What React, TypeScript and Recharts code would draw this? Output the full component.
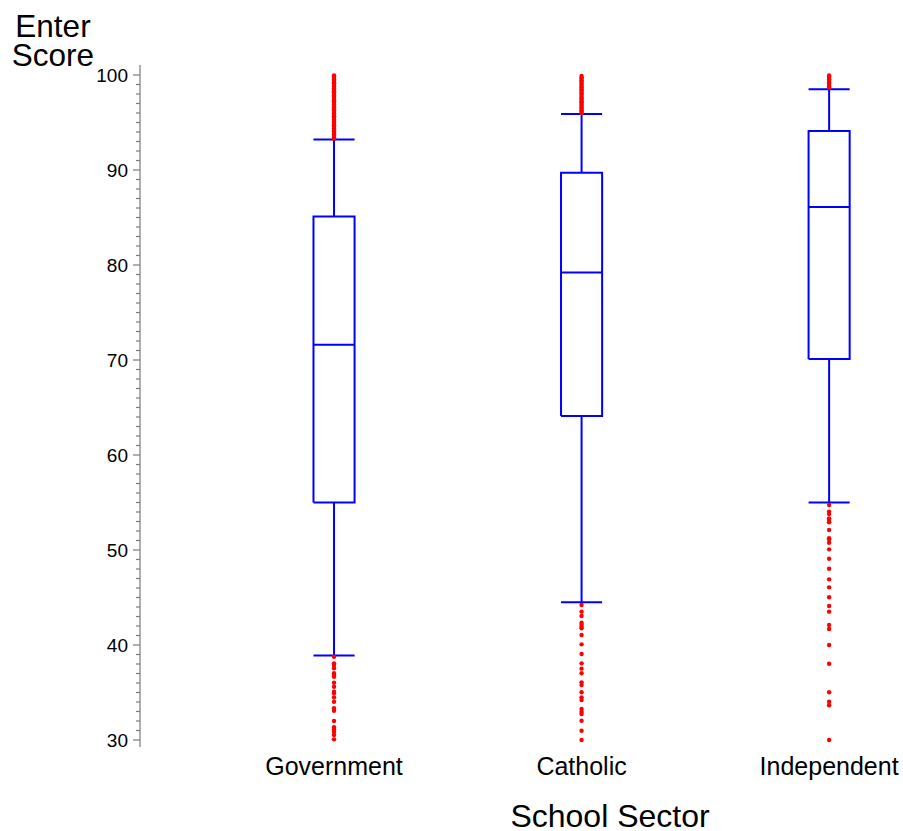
import { ComposedChart, Line, Scatter, XAxis, YAxis } from "recharts"

const FONT = "'Liberation Sans', Arial, sans-serif"

// box plot summaries, one entry per sector
const sectors = ["Government", "Catholic", "Independent"]
const lowerWhisker = [38.9, 44.5, 55.0]
const lowerQuartile = [55.0, 64.1, 70.1]
const medians = [71.6, 79.2, 86.1]
const upperQuartile = [85.1, 89.7, 94.1]
const upperWhisker = [93.2, 95.9, 98.5]

// individual scores beyond the whiskers
const governmentOutliers = [
  93.3, 93.45, 93.6, 93.75, 93.9, 94.05, 94.2, 94.4, 94.55, 94.7, 94.85, 95.0, 95.15, 95.3, 95.5,
  95.65, 95.8, 95.95, 96.1, 96.25, 96.4, 96.6, 96.75, 96.9, 97.05, 97.2, 97.35, 97.5, 97.7, 97.85,
  98.0, 98.15, 98.3, 98.45, 98.6, 98.8, 98.95, 99.1, 99.25, 99.4, 99.55, 99.7, 99.85, 99.95,
  38.77, 38.07, 37.89, 37.55, 37.02, 36.84, 36.66, 36.03, 35.61, 35.08, 34.92, 34.49, 34.03, 33.34,
  33.08, 32.0, 31.34, 31.12, 30.87, 30.53, 30.07,
]
const catholicOutliers = [
  96.0, 96.15, 96.3, 96.45, 96.6, 96.8, 96.95, 97.1, 97.25, 97.4, 97.55, 97.7, 97.9, 98.05, 98.2,
  98.35, 98.5, 98.65, 98.8, 99.0, 99.15, 99.3, 99.45, 99.6, 99.75, 99.9,
  44.21, 43.51, 43.05, 42.35, 42.14, 41.93, 41.75, 41.05, 40.07, 39.05, 38.07, 37.51, 37.02, 36.07,
  35.79, 35.02, 34.49, 34.21, 33.26, 32.98, 32.74, 32.03, 30.98, 30.0,
]
const independentOutliers = [
  98.65, 98.8, 98.95, 99.1, 99.25, 99.4, 99.55, 99.7, 99.85, 99.95,
  54.74, 54.04, 53.79, 53.33, 53.16, 52.92, 52.11, 51.23, 51.12, 50.77, 50.07, 49.08, 48.03, 46.91,
  46.07, 45.02, 44.11, 43.51, 42.11, 41.68, 40.0, 38.03, 35.02, 34.03, 33.65, 30.0,
]

const majorTicks = [30, 40, 50, 60, 70, 80, 90, 100]
const yTicks = Array.from({ length: 71 }, (_, i) => 30 + i)
const xTicks = [1, 2, 3]

const BOX_HALF = 0.083

type Pt = { x: number; y: number | null }

// one polyline per box; null points break it into separate segments
function boxSegments(i: number): Pt[] {
  const x = i + 1
  const l = x - BOX_HALF
  const r = x + BOX_HALF
  const gap = { x, y: null }
  return [
    { x: l, y: lowerWhisker[i] }, { x: r, y: lowerWhisker[i] }, gap,
    { x, y: lowerWhisker[i] }, { x, y: lowerQuartile[i] }, gap,
    { x: l, y: lowerQuartile[i] }, { x: r, y: lowerQuartile[i] }, { x: r, y: upperQuartile[i] },
    { x: l, y: upperQuartile[i] }, { x: l, y: lowerQuartile[i] }, gap,
    { x: l, y: medians[i] }, { x: r, y: medians[i] }, gap,
    { x, y: upperQuartile[i] }, { x, y: upperWhisker[i] }, gap,
    { x: l, y: upperWhisker[i] }, { x: r, y: upperWhisker[i] },
  ]
}

const outlierSets = [governmentOutliers, catholicOutliers, independentOutliers].map((vals, i) =>
  vals.map((y) => ({ x: i + 1, y }))
)

function YTick(props: any) {
  const { x, y, payload } = props
  const major = majorTicks.includes(payload.value)
  return (
    <g>
      <line x1={x - (major ? 7 : 4)} x2={x} y1={y} y2={y} stroke="#7a7a7a" strokeWidth={1.2} />
      {major && (
        <text x={x - 12} y={y} dy="0.35em" textAnchor="end" fontSize={19} fontFamily={FONT} fill="#000">
          {payload.value}
        </text>
      )}
    </g>
  )
}

export default function App() {
  return (
    <div style={{ position: "absolute", left: 0, top: 0, width: 903, height: 831, background: "#fff" }}>
      <ComposedChart width={903} height={831} margin={{ top: 65, right: 12, bottom: 0, left: 0 }}>
        <XAxis
          dataKey="x"
          type="number"
          domain={[0.2162, 3.25]}
          allowDataOverflow
          ticks={xTicks}
          interval={0}
          axisLine={false}
          tickLine={false}
          tickSize={0}
          tickMargin={10}
          height={84}
          tick={{ fontSize: 25, fill: "#000", fontFamily: FONT }}
          tickFormatter={(v: number) => sectors[v - 1] ?? ""}
          label={{
            content: () => (
              <text x={610} y={827} textAnchor="middle" fontSize={32} fontFamily={FONT} fill="#000">
                School Sector
              </text>
            ),
          }}
        />
        <YAxis
          type="number"
          domain={[29.263, 101.053]}
          allowDataOverflow
          ticks={yTicks}
          interval={0}
          width={140}
          tickLine={false}
          tickSize={0}
          tickMargin={0}
          axisLine={{ stroke: "#7a7a7a", strokeWidth: 1.2 }}
          tick={<YTick />}
          label={{
            content: () => (
              <text textAnchor="middle" fontSize={31.5} fontFamily={FONT} fill="#000">
                <tspan x={53} y={37}>Enter</tspan>
                <tspan x={53} y={65.5}>Score</tspan>
              </text>
            ),
          }}
        />
        {outlierSets.map((pts, i) => (
          <Scatter
            key={`out-${i}`}
            data={pts}
            dataKey="y"
            isAnimationActive={false}
            shape={(p: any) => <circle cx={p.cx} cy={p.cy} r={2.2} fill="#ff0000" />}
          />
        ))}
        {sectors.map((s, i) => (
          <Line
            key={s}
            data={boxSegments(i)}
            dataKey="y"
            stroke="#0000ff"
            strokeWidth={2}
            dot={false}
            activeDot={false}
            isAnimationActive={false}
          />
        ))}
      </ComposedChart>
    </div>
  )
}
